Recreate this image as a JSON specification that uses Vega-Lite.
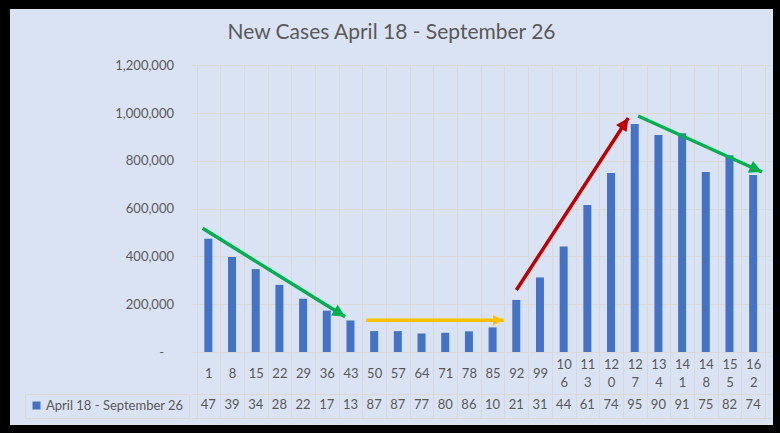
{
  "$schema": "https://vega.github.io/schema/vega-lite/v6.json",
  "width": 763,
  "height": 416,
  "autosize": {"type": "none"},
  "padding": {"left": 10, "top": 9, "right": 7, "bottom": 8},
  "background": "#000000",
  "title": {
    "text": "New Cases April 18 - September 26",
    "font": "Lato",
    "fontSize": 21,
    "fontWeight": "normal",
    "color": "#595959",
    "anchor": "middle",
    "baseline": "alphabetic",
    "offset": -51
  },
  "datasets": {
    "cases": [
      {"day": 1, "cases": 474000, "shown": "47"},
      {"day": 8, "cases": 398000, "shown": "39"},
      {"day": 15, "cases": 347000, "shown": "34"},
      {"day": 22, "cases": 281000, "shown": "28"},
      {"day": 29, "cases": 223000, "shown": "22"},
      {"day": 36, "cases": 173000, "shown": "17"},
      {"day": 43, "cases": 132000, "shown": "13"},
      {"day": 50, "cases": 87500, "shown": "87"},
      {"day": 57, "cases": 87300, "shown": "87"},
      {"day": 64, "cases": 77500, "shown": "77"},
      {"day": 71, "cases": 80500, "shown": "80"},
      {"day": 78, "cases": 86500, "shown": "86"},
      {"day": 85, "cases": 103000, "shown": "10"},
      {"day": 92, "cases": 218000, "shown": "21"},
      {"day": 99, "cases": 312000, "shown": "31"},
      {"day": 106, "cases": 442000, "shown": "44"},
      {"day": 113, "cases": 615000, "shown": "61"},
      {"day": 120, "cases": 749000, "shown": "74"},
      {"day": 127, "cases": 954000, "shown": "95"},
      {"day": 134, "cases": 908000, "shown": "90"},
      {"day": 141, "cases": 916000, "shown": "91"},
      {"day": 148, "cases": 753000, "shown": "75"},
      {"day": 155, "cases": 824000, "shown": "82"},
      {"day": 162, "cases": 741000, "shown": "74"}
    ],
    "arrows": [
      {"arrow": "a1", "trend": "falling", "x0": -0.7, "y0": 517700, "x1": 41.41, "y1": 147700},
      {"arrow": "a2", "trend": "flat", "x0": 47.6, "y0": 132700, "x1": 88.25, "y1": 132700},
      {"arrow": "a3", "trend": "rising", "x0": 92.03, "y0": 259500, "x1": 125.1, "y1": 979400},
      {"arrow": "a4", "trend": "falling", "x0": 128.0, "y0": 987800, "x1": 164.6, "y1": 753400}
    ]
  },
  "config": {
    "font": "Lato",
    "view": {"fill": "#DAE3F3", "stroke": null},
    "axis": {
      "grid": false,
      "title": null,
      "labelFont": "Lato",
      "labelFontSize": 13,
      "labelColor": "#595959",
      "tickColor": "#D9D9D9",
      "domainColor": "#D9D9D9",
      "labelOverlap": false,
      "labelFlush": false,
      "labelBound": false
    }
  },
  "resolve": {
    "axis": {"x": "independent", "y": "independent"},
    "scale": {"color": "independent"}
  },
  "layer": [
    {
      "data": {"name": "cases"},
      "mark": {"type": "bar", "width": 8, "color": "#4472C4"},
      "encoding": {
        "x": {
          "field": "day",
          "type": "quantitative",
          "scale": {"domain": [-2.5, 165.5], "range": [181.5, 760], "nice": false, "zero": false},
          "axis": {
            "orient": "bottom",
            "offset": -73,
            "values": [1, 8, 15, 22, 29, 36, 43, 50, 57, 64, 71, 78, 85, 92, 99],
            "ticks": false,
            "domain": false,
            "labelPadding": 21,
            "labelBaseline": "middle"
          }
        },
        "y": {
          "field": "cases",
          "type": "quantitative",
          "scale": {"domain": [0, 1200000], "range": [343, 56.3], "nice": false, "zero": true},
          "axis": {
            "orient": "left",
            "offset": -181.5,
            "values": [0, 200000, 400000, 600000, 800000, 1000000, 1200000],
            "ticks": false,
            "domain": false,
            "labelPadding": 18,
            "labelExpr": "datum.value == 0 ? '-\u2800' : format(datum.value, ',')"
          }
        },
        "color": {
          "datum": "April 18 - September 26",
          "type": "nominal",
          "scale": {"range": ["#4472C4"]},
          "legend": {
            "orient": "none",
            "legendX": 15,
            "legendY": 385,
            "direction": "horizontal",
            "title": null,
            "symbolType": "square",
            "symbolSize": 64,
            "symbolStrokeWidth": 0,
            "labelFont": "Lato",
            "labelFontSize": 13,
            "labelColor": "#595959",
            "labelOffset": 3,
            "strokeColor": "#D9D9D9",
            "padding": 5
          }
        }
      }
    },
    {
      "data": {"name": "cases"},
      "mark": {"type": "text", "font": "Lato", "fontSize": 13, "color": "#595959", "baseline": "middle", "align": "center", "dy": 53},
      "encoding": {
        "x": {
          "field": "day",
          "type": "quantitative",
          "axis": {
            "orient": "top",
            "offset": -56.3,
            "values": [-2.5, 4.5, 11.5, 18.5, 25.5, 32.5, 39.5, 46.5, 53.5, 60.5, 67.5, 74.5, 81.5, 88.5, 95.5, 102.5, 109.5, 116.5, 123.5, 130.5, 137.5, 144.5, 151.5, 158.5, 165.5],
            "labels": false,
            "domain": false,
            "ticks": true,
            "tickSize": -352.7,
            "tickWidth": 1
          }
        },
        "y": {"datum": 0, "type": "quantitative", "axis": null},
        "text": {"field": "shown"}
      }
    },
    {
      "data": {"name": "arrows"},
      "mark": {"type": "rule", "strokeWidth": 3.5, "strokeCap": "butt"},
      "encoding": {
        "x": {
          "field": "x0",
          "type": "quantitative",
          "axis": {"orient": "bottom", "offset": -31, "labels": false, "ticks": false, "domain": true, "domainWidth": 1}
        },
        "x2": {"field": "x1"},
        "y": {
          "field": "y0",
          "type": "quantitative",
          "axis": {
            "orient": "right",
            "offset": -3,
            "values": [0, 200000, 400000, 600000, 800000, 1000000, 1200000],
            "labels": false,
            "domain": false,
            "ticks": true,
            "tickSize": -578.5,
            "tickWidth": 1
          }
        },
        "y2": {"field": "y1"},
        "color": {
          "field": "trend",
          "type": "nominal",
          "scale": {"domain": ["falling", "flat", "rising"], "range": ["#00B050", "#FFC000", "#C00000"]},
          "legend": null
        }
      }
    },
    {
      "data": {"name": "arrows"},
      "transform": [{"filter": "datum.arrow == 'a1'"}],
      "mark": {"type": "point", "shape": "M0,0L-2,-1L-2,1Z", "size": 160, "filled": true, "opacity": 1, "angle": 31.4, "color": "#00B050"},
      "encoding": {
        "x": {
          "field": "x1",
          "type": "quantitative",
          "axis": {"orient": "bottom", "offset": -7, "labels": false, "ticks": false, "domain": true, "domainWidth": 1}
        },
        "y": {"field": "y1", "type": "quantitative", "axis": null}
      }
    },
    {
      "data": {"name": "arrows"},
      "transform": [{"filter": "datum.arrow == 'a2'"}],
      "mark": {"type": "point", "shape": "M0,0L-2,-1L-2,1Z", "size": 110, "filled": true, "opacity": 1, "angle": 0, "color": "#FFC000"},
      "encoding": {
        "x": {
          "field": "x1",
          "type": "quantitative",
          "axis": {
            "orient": "bottom",
            "offset": -73,
            "values": [106, 113, 120, 127, 134, 141, 148, 155, 162],
            "ticks": false,
            "domain": false,
            "labelPadding": 12,
            "labelBaseline": "middle",
            "labelExpr": "slice(toString(datum.value), 0, 2)"
          }
        },
        "y": {"field": "y1", "type": "quantitative", "axis": null}
      }
    },
    {
      "data": {"name": "arrows"},
      "transform": [{"filter": "datum.arrow == 'a3'"}],
      "mark": {"type": "point", "shape": "M0,0L-2,-1L-2,1Z", "size": 160, "filled": true, "opacity": 1, "angle": -56.5, "color": "#C00000"},
      "encoding": {
        "x": {
          "field": "x1",
          "type": "quantitative",
          "axis": {
            "orient": "bottom",
            "offset": -73,
            "values": [106, 113, 120, 127, 134, 141, 148, 155, 162],
            "ticks": false,
            "domain": false,
            "labelPadding": 30,
            "labelBaseline": "middle",
            "labelExpr": "slice(toString(datum.value), 2)"
          }
        },
        "y": {"field": "y1", "type": "quantitative", "axis": null}
      }
    },
    {
      "data": {"name": "arrows"},
      "transform": [{"filter": "datum.arrow == 'a4'"}],
      "mark": {"type": "point", "shape": "M0,0L-2,-1L-2,1Z", "size": 160, "filled": true, "opacity": 1, "angle": 24, "color": "#00B050"},
      "encoding": {
        "x": {"field": "x1", "type": "quantitative", "axis": null},
        "y": {"field": "y1", "type": "quantitative", "axis": null}
      }
    }
  ]
}
